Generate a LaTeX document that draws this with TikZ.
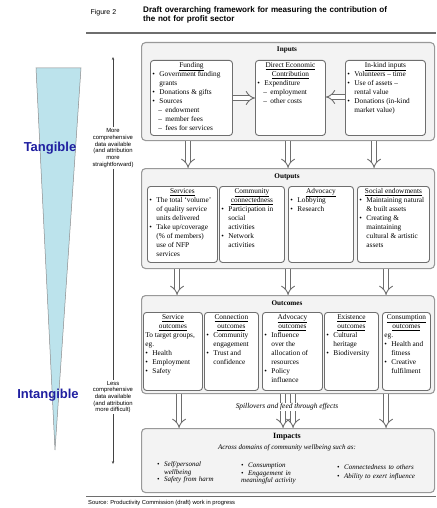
\documentclass[tikz,border=0pt]{standalone}
\usepackage{fontspec}
\setmainfont{Liberation Serif}
\setsansfont{Liberation Sans}
\usepackage{tikz}
\usetikzlibrary{arrows.meta}
\definecolor{wedgeBlue}{HTML}{BCE3EC}
\definecolor{labelBlue}{HTML}{1F1FA0}
\definecolor{frameGrey}{HTML}{6E6E6E}
\definecolor{panelGrey}{HTML}{F3F3F3}
\newcommand{\hd}[1]{\par\hbox to\linewidth{\hfil\underline{#1}\hfil}}
\newcommand{\bul}{\par\hangindent=7pt\hangafter=1\noindent\hbox to 7pt{\textbullet\hfil}}
\newcommand{\dsh}{\par\hangindent=13pt\hangafter=1\noindent\hbox to 13pt{\hskip6pt--\hfil}}
\newcommand{\bx}[3]{\parbox[t][#2pt][t]{#1pt}{\raggedright#3}}

\begin{document}
\begin{tikzpicture}[x=1pt, y=-1pt,
  outbox/.style={draw=frameGrey!70, line width=1.1pt, rounded corners=4pt, fill=panelGrey, anchor=north west, inner sep=0pt},
  inbox/.style={draw=frameGrey, line width=0.9pt, rounded corners=3pt, fill=white, anchor=north west, inner sep=2pt, font=\fontsize{7.3}{9}\selectfont},
  paneltitle/.style={font=\bfseries\fontsize{7.2}{8}\selectfont},
  dblarr/.style={draw=frameGrey, line width=0.9pt, double=white, double distance=4pt, -{Implies}},
  datalbl/.style={font=\sffamily\fontsize{5.9}{6.7}\selectfont, align=center, inner sep=1pt},
  sidelbl/.style={font=\sffamily\bfseries\fontsize{13}{13}\selectfont, text=labelBlue},
  impcol/.style={anchor=north west, inner sep=0pt, text width=88pt, font=\itshape\fontsize{7}{7.4}\selectfont}]
  \useasboundingbox (0,0) rectangle (436,508);

  % heading
  \node[anchor=north west, font=\sffamily\fontsize{7}{9}\selectfont] (figno) at (87,6) {Figure 2};
  \node[anchor=north west, text width=292pt, inner sep=0pt, font=\sffamily\bfseries\fontsize{8.1}{9}\selectfont] (figttl) at (143,6)
    {Draft overarching framework for measuring the contribution of\\the not for profit sector};
  \draw[line width=1.3pt, frameGrey] (86,33) -- (436,33);

  % tangible / intangible wedge
  \filldraw[fill=wedgeBlue, draw=frameGrey!80, line width=0.5pt] (36,68) -- (81,68) -- (55,450) -- cycle;
  \node[sidelbl] (tang) at (50,148) {Tangible};
  \node[sidelbl] (intang) at (48,395) {Intangible};

  % data availability
  \coordinate (dataTop) at (113,57);
  \coordinate (dataBot) at (113,464);
  \node[datalbl] (moreData) at (113,148) {More\\comprehensive\\data available\\(and attribution\\more\\straightforward)};
  \node[datalbl] (lessData) at (113,397) {Less\\comprehensive\\data available\\(and attribution\\more difficult)};
  \draw[frameGrey!60!black, line width=0.6pt, -{Stealth[length=3pt, width=2.4pt]}] (moreData) -- (dataTop);
  \draw[frameGrey!60!black, line width=0.6pt] (moreData) -- (lessData);
  \draw[frameGrey!60!black, line width=0.6pt, -{Stealth[length=3pt, width=2.4pt]}] (lessData) -- (dataBot);

  % inputs
  \node[outbox, minimum width=293pt, minimum height=98pt] (ins) at (141,42) {};
  \node[paneltitle] (insT) at (287,50) {Inputs};
  \node[inbox] (fund) at (150,60) {\bx{78}{71}{\hd{Funding}
    \bul Government funding\newline grants
    \bul Donations \& gifts
    \bul Sources
    \dsh endowment
    \dsh member fees
    \dsh fees for services}};
  \node[inbox] (dec) at (255,60) {\bx{66}{71}{\hd{Direct Economic}\hd{Contribution}
    \bul Expenditure
    \dsh employment
    \dsh other costs}};
  \node[inbox] (kind) at (345,60) {\bx{76}{71}{\hd{In-kind inputs}
    \bul Volunteers -- time
    \bul Use of assets --\newline rental value
    \bul Donations (in-kind\newline market value)}};
  \draw[dblarr] (fund.east |- 0,98) -- (dec.west |- 0,98);
  \draw[dblarr] (kind.west |- 0,97) -- (dec.east |- 0,97);

  % outputs
  \node[outbox, minimum width=293pt, minimum height=100pt] (outs) at (141,168) {};
  \node[paneltitle] (outsT) at (287,177) {Outputs};
  \node[inbox] (serv) at (147,186) {\bx{66}{72}{\hd{Services}
    \bul The total `volume'\newline of quality service\newline units delivered
    \bul Take up/coverage\newline (\% of members)\newline use of NFP\newline services}};
  \node[inbox] (comm) at (219,186) {\bx{61}{72}{\hd{Community}\hd{connectedness}
    \bul Participation in\newline social\newline activities
    \bul Network\newline activities}};
  \node[inbox] (advo) at (288,186) {\bx{61}{72}{\hd{Advocacy}
    \bul Lobbying
    \bul Research}};
  \node[inbox] (endw) at (357,186) {\bx{68}{72}{\hd{Social endowments}
    \bul Maintaining natural\newline \& built assets
    \bul Creating \&\newline maintaining\newline cultural \& artistic\newline assets}};
  \draw[dblarr] ([xshift=-100pt]ins.south) -- ([xshift=-100pt]outs.north);
  \draw[dblarr] (ins.south) -- (outs.north);
  \draw[dblarr] ([xshift=86pt]ins.south) -- ([xshift=86pt]outs.north);

  % outcomes
  \node[outbox, minimum width=293pt, minimum height=98pt] (outc) at (141,295) {};
  \node[paneltitle] (outcT) at (287,303) {Outcomes};
  \node[inbox] (sout) at (143,312) {\bx{55}{74}{\hd{Service}\hd{outcomes}
    To target groups,\newline eg.
    \bul Health
    \bul Employment
    \bul Safety}};
  \node[inbox] (cout) at (204,312) {\bx{50}{74}{\hd{Connection}\hd{outcomes}
    \bul Community\newline engagement
    \bul Trust and\newline confidence}};
  \node[inbox] (aout) at (262,312) {\bx{56}{74}{\hd{Advocacy}\hd{outcomes}
    \bul Influence\newline over the\newline allocation of\newline resources
    \bul Policy\newline influence}};
  \node[inbox] (eout) at (324,312) {\bx{50}{74}{\hd{Existence}\hd{outcomes}
    \bul Cultural\newline heritage
    \bul Biodiversity}};
  \node[inbox] (xout) at (382,312) {\bx{44}{74}{\hd{Consumption}\hd{outcomes}
    eg.
    \bul Health and\newline fitness
    \bul Creative\newline fulfilment}};
  \draw[dblarr] ([xshift=-111pt]outs.south) -- ([xshift=-111pt]outc.north);
  \draw[dblarr] (outs.south) -- (outc.north);
  \draw[dblarr] ([xshift=98pt]outs.south) -- ([xshift=98pt]outc.north);

  % impacts
  \node[outbox, minimum width=293pt, minimum height=64pt] (imp) at (141,428) {};
  \node[font=\bfseries\fontsize{8}{9}\selectfont] (impT) at (287,437) {Impacts};
  \node[font=\itshape\fontsize{7}{8}\selectfont] (impSub) at (287,448) {Across domains of community wellbeing such as:};
  \node[impcol] (impA) at (157,459) {\bul Self/personal\newline wellbeing \bul Safety from harm};
  \node[impcol] (impB) at (241,460) {\bul Consumption \bul Engagement in\newline meaningful activity};
  \node[impcol] (impC) at (337,462) {\bul Connectedness to others\par\vspace{1.5pt}\bul Ability to exert influence};
  \draw[dblarr] ([xshift=-109pt]outc.south) -- ([xshift=-109pt]imp.north);
  \draw[dblarr] ([xshift=-5pt]outc.south) -- ([xshift=-5pt]imp.north);
  \draw[dblarr] ([xshift=5pt]outc.south) -- ([xshift=5pt]imp.north);
  \draw[dblarr] ([xshift=98pt]outc.south) -- ([xshift=98pt]imp.north);
  \node[fill=white, inner sep=1pt, font=\itshape\fontsize{7.4}{8}\selectfont] (spill) at (287,407) {Spillovers and feed through effects};

  % source
  \draw[line width=0.8pt, frameGrey] (86,496) -- (436,496);
  \node[anchor=west, inner sep=0pt, font=\sffamily\fontsize{5.8}{7}\selectfont] (src) at (88,503) {Source: Productivity Commission (draft) work in progress};
\end{tikzpicture}
\end{document}
